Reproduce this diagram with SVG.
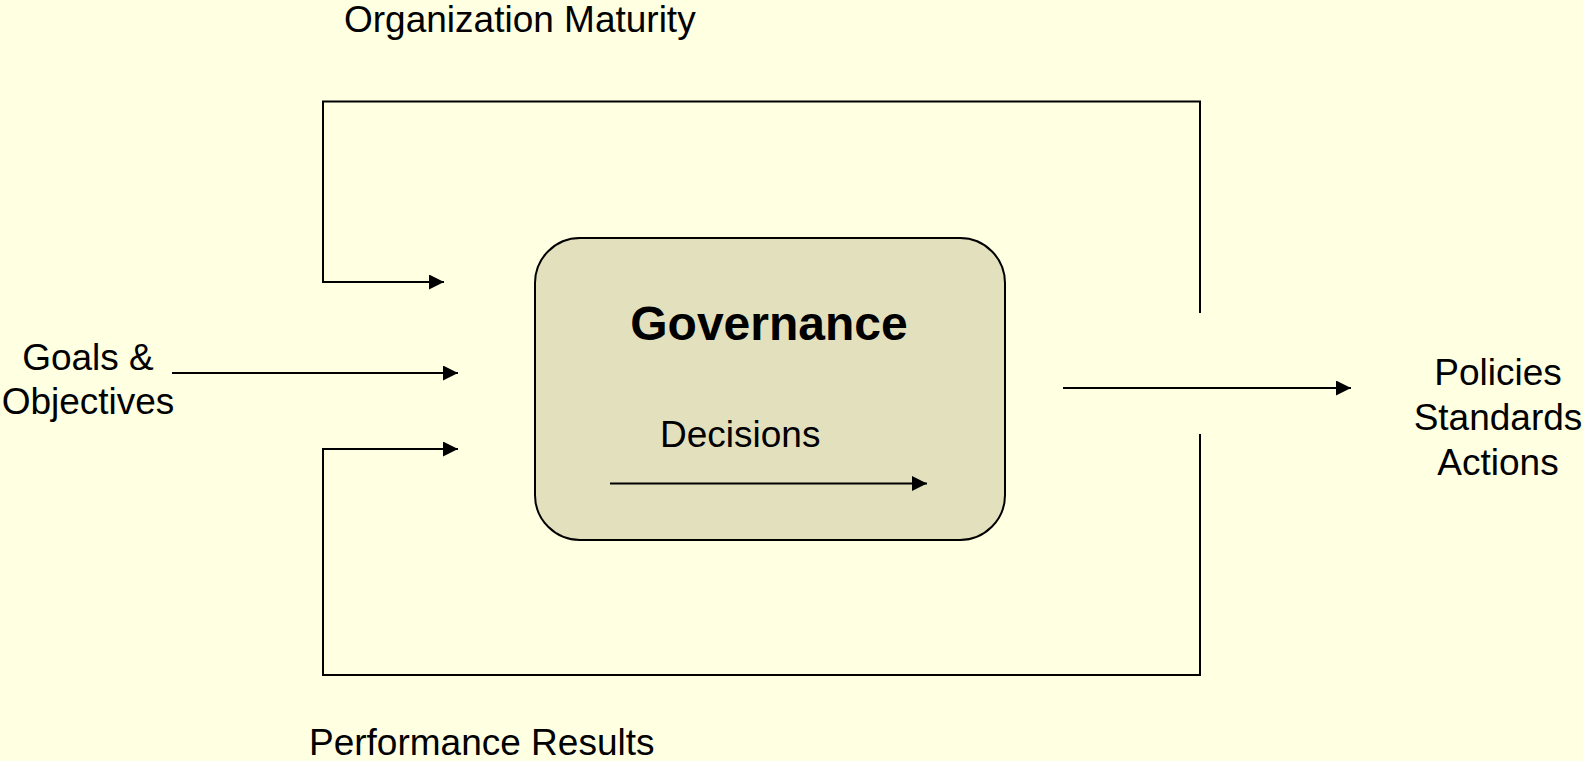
<svg xmlns="http://www.w3.org/2000/svg" width="1583" height="761" viewBox="0 0 1583 761">
  <defs>
    <marker id="arrow" markerUnits="userSpaceOnUse" markerWidth="16" markerHeight="16" refX="15" refY="7.5" orient="auto">
      <path d="M0,0 L15,7.5 L0,15 Z" fill="#000"/>
    </marker>
    <style>
      .lbl { font-family: "Liberation Sans", Arial, sans-serif; font-size: 37px; fill: #000; }
      .title { font-family: "Liberation Sans", Arial, sans-serif; font-size: 48px; font-weight: bold; fill: #000; }
      .conn { fill: none; stroke: #000; stroke-width: 2; }
      .arr { marker-end: url(#arrow); }
    </style>
  </defs>
  <rect x="0" y="0" width="1583" height="761" fill="#FFFFE1"/>

  <g id="governance">
    <rect x="535" y="238" width="470" height="302" rx="45" ry="45" fill="#E3E1BD" stroke="#000" stroke-width="2"/>
    <text class="title" x="769" y="340" text-anchor="middle">Governance</text>
    <text class="lbl" x="660" y="447">Decisions</text>
  </g>

  <g id="label-org-maturity">
    <text class="lbl" x="344" y="32">Organization Maturity</text>
  </g>
  <g id="label-goals">
    <text class="lbl" text-anchor="middle"><tspan x="88" y="370">Goals &amp;</tspan><tspan x="88" y="414">Objectives</tspan></text>
  </g>
  <g id="label-outputs">
    <text class="lbl" text-anchor="middle"><tspan x="1498" y="385">Policies</tspan><tspan x="1498" y="430">Standards</tspan><tspan x="1498" y="475">Actions</tspan></text>
  </g>
  <g id="label-performance">
    <text class="lbl" x="309" y="755">Performance Results</text>
  </g>

  <g id="connectors">
    <polyline class="conn arr" points="1200,313 1200,101.5 323,101.5 323,282 444,282"/>
    <polyline class="conn arr" points="1200,434 1200,675 323,675 323,449 458,449"/>
    <line class="conn arr" x1="172" y1="373" x2="458" y2="373"/>
    <line class="conn arr" x1="610" y1="483.5" x2="927" y2="483.5"/>
    <line class="conn arr" x1="1063" y1="388" x2="1351" y2="388"/>
  </g>
</svg>
